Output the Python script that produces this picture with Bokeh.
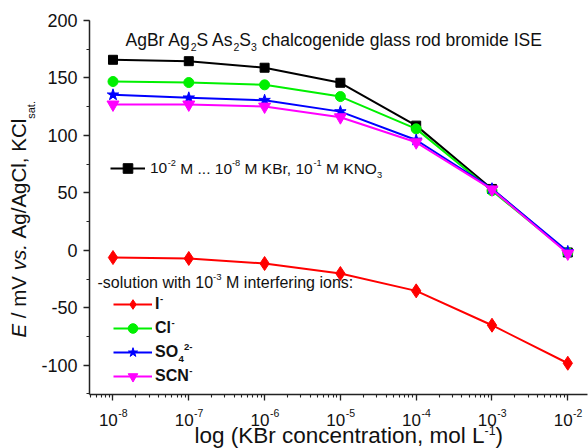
import math
from bokeh.plotting import figure
from bokeh.layouts import row, column
from bokeh.models import (Range1d, SingleIntervalTicker, Label, Legend, LegendItem,
                          CustomJSTickFormatter)
from bokeh.core.properties import value
from bokeh.embed import file_html
from bokeh.resources import INLINE

# ---------------- data ----------------
conc = [1e-8, 1e-7, 1e-6, 1e-5, 1e-4, 1e-3, 1e-2]
E_kbr = [165.8, 164.6, 158.9, 145.8, 108.5, 53.4, -1.9]
E_cl = [146.9, 146.0, 144.0, 133.8, 105.7, 51.9, -2.0]
E_so4 = [135.3, 132.7, 130.6, 120.7, 96.0, 53.6, -1.0]
E_scn = [126.9, 126.9, 125.1, 115.8, 94.0, 53.0, -2.8]
E_i = [-6.3, -7.1, -11.5, -20.2, -35.3, -65.2, -98.3]

x_ticks = [1e-8, 1e-7, 1e-6, 1e-5, 1e-4, 1e-3, 1e-2]
x_tick_exp = ["-8", "-7", "-6", "-5", "-4", "-3", "-2"]
y_tick_interval = 50

FONT = "Liberation Sans"
TXT = "#111111"
AX = "#222222"
GREEN = "#00f000"
W, H = 588, 448
LSTRIP = 38            # width of the strip holding the y-axis title
MAIN_H = 404           # height of the main plot
FRAME_L, FRAME_T, FRAME_B = 89, 20, 394
X_RANGE = (10 ** -8.31, 10 ** -1.74)

# ---------------- text helpers ----------------
REG = {' ': 278, '(': 333, ')': 333, ',': 278, '-': 333, '.': 278, '/': 278, ':': 278,
       'A': 667, 'B': 667, 'C': 722, 'E': 667, 'I': 278, 'K': 667, 'L': 556, 'M': 833,
       'N': 722, 'O': 778, 'S': 667, 'V': 667,
       'a': 556, 'b': 556, 'c': 500, 'd': 556, 'e': 556, 'f': 278, 'g': 556, 'h': 556,
       'i': 222, 'l': 222, 'm': 833, 'n': 556, 'o': 556, 'r': 333, 's': 500, 't': 278,
       'u': 556, 'v': 500, 'w': 722}
BOLD = {' ': 278, '-': 333, 'I': 278, 'C': 722, 'l': 278, 'S': 667, 'O': 778, 'N': 722}
MID = 0.3465  # 'middle' baseline offset above alphabetic (em)


def tw(s, size, bold=False):
    t = BOLD if bold else REG
    return sum(t.get(c, 556) for c in s) * size / 1000.0


def rich(fig, ox, oy, x, base, segs, size, bold=False, skip_first=False,
         sup_scale=0.6, sup_raise=0.5, sub_drop=0.25):
    """Horizontal rich text. x, base: page px (y down) of start and baseline.
    ox, oy: page px of the frame's left and bottom edge of `fig`."""
    cx = x
    for i, (text, kind, style) in enumerate(segs):
        if kind == "sup":
            s, b = size * sup_scale, base - size * sup_raise
        elif kind == "sub":
            s, b = size * sup_scale, base + size * sub_drop
        else:
            s, b = size, base
        lead = text[:len(text) - len(text.lstrip())]
        core = text.strip()
        if core and not (skip_first and i == 0):
            fig.add_layout(Label(x=cx + tw(lead, s, bold) - ox, y=oy - (b - MID * s),
                                 x_units="screen", y_units="screen", text=core,
                                 text_font=FONT, text_font_size=f"{s:.2f}px",
                                 text_font_style=style, text_align="left",
                                 text_baseline="middle", text_color=TXT))
        cx += tw(text, s, bold)


def blank_fig(w, h, **kw):
    f = figure(width=w, height=h, output_backend="svg", toolbar_location=None, title=None,
               x_axis_location=None, y_axis_location=None, **kw)
    f.outline_line_color = None
    f.grid.visible = False
    return f


# ---------------- main plot ----------------
p = figure(width=W - LSTRIP, height=MAIN_H, x_axis_type="log",
           x_range=Range1d(*X_RANGE), y_range=Range1d(-125.5, 200),
           output_backend="svg", toolbar_location=None, title=None,
           min_border_left=FRAME_L - LSTRIP, min_border_right=1,
           min_border_top=FRAME_T, min_border_bottom=MAIN_H - FRAME_B)
p.outline_line_color = None
p.xgrid.grid_line_color = None
p.ygrid.grid_line_color = None

p.yaxis.ticker = SingleIntervalTicker(interval=y_tick_interval, num_minor_ticks=2)
p.yaxis.formatter = CustomJSTickFormatter(code="return tick.toString()")
p.xaxis.formatter = CustomJSTickFormatter(code="return ''")
for ax in (p.xaxis[0], p.yaxis[0]):
    ax.axis_line_color = AX
    ax.axis_line_width = 1.5
    ax.major_tick_line_color = AX
    ax.minor_tick_line_color = AX
    ax.major_tick_line_width = 1.3
    ax.minor_tick_line_width = 1.1
    ax.major_tick_in = 0
    ax.major_tick_out = 6
    ax.minor_tick_in = 0
    ax.minor_tick_out = 3
    ax.major_label_text_font = FONT
    ax.major_label_text_color = TXT
p.yaxis.major_label_text_font_size = "18px"
p.yaxis.major_label_standoff = 6
p.xaxis.major_label_text_font_size = "0px"
p.xaxis.major_label_standoff = 0

LW = 2
l_kbr = p.line(conc, E_kbr, color="black", line_width=LW)
m_kbr = p.scatter(conc, E_kbr, marker="square", size=9, color="black")
l_cl = p.line(conc, E_cl, color=GREEN, line_width=LW)
m_cl = p.scatter(conc, E_cl, marker="circle", size=10, color=GREEN)
l_so4 = p.line(conc, E_so4, color="#0000ff", line_width=LW)
m_so4 = p.scatter(conc, E_so4, marker="star", size=12, color="#0000ff")
l_scn = p.line(conc, E_scn, color="#ff00ff", line_width=LW)
m_scn = p.scatter(conc, E_scn, marker="inverted_triangle", size=12, color="#ff00ff")
l_i = p.line(conc, E_i, color="#ff0000", line_width=LW)
m_i = p.scatter(conc, E_i, marker="diamond", size=14, color="#ff0000")

# title inside the frame
rich(p, FRAME_L, FRAME_B, 125, 46,
     [("AgBr Ag", "n", "normal"), ("2", "sub", "normal"), ("S As", "n", "normal"),
      ("2", "sub", "normal"), ("S", "n", "normal"), ("3", "sub", "normal"),
      (" chalcogenide glass rod bromide ISE", "n", "normal")], 17.5)

# heading for the interfering-ion group
rich(p, FRAME_L, FRAME_B, 97, 288,
     [("-solution with 10", "n", "normal"), ("-3", "sup", "normal"),
      (" M interfering ions:", "n", "normal")], 16)

# legends
common = dict(padding=0, spacing=0, margin=0, border_line_color=None,
              background_fill_alpha=0, label_text_font=FONT, label_text_color=TXT,
              glyph_height=24, label_height=24)

mid1 = 168
leg1 = Legend(items=[LegendItem(label=value("10"), renderers=[l_kbr, m_kbr])],
              location=(110 - FRAME_L, FRAME_B - (mid1 + 12)), glyph_width=35,
              label_standoff=5, label_text_font_size="15.5px", **common)
p.add_layout(leg1)
rich(p, FRAME_L, FRAME_B, 150, mid1 + MID * 15.5,
     [("10", "n", "normal"), ("-2", "sup", "normal"), (" M ... 10", "n", "normal"),
      ("-8", "sup", "normal"), (" M KBr, 10", "n", "normal"), ("-1", "sup", "normal"),
      (" M KNO", "n", "normal"), ("3", "sub", "normal")], 15.5, skip_first=True)

mid2 = 304
leg2 = Legend(items=[LegendItem(label=value("I"), renderers=[l_i, m_i]),
                     LegendItem(label=value("Cl"), renderers=[l_cl, m_cl]),
                     LegendItem(label=value("SO"), renderers=[l_so4, m_so4]),
                     LegendItem(label=value("SCN"), renderers=[l_scn, m_scn])],
              location=(113 - FRAME_L, FRAME_B - (mid2 - 12 + 4 * 24)), glyph_width=39,
              label_standoff=3, label_text_font_size="16px",
              label_text_font_style="bold", **common)
p.add_layout(leg2)
for k, segs in enumerate([
        [("I", "n", "bold"), ("-", "sup", "bold")],
        [("Cl", "n", "bold"), ("-", "sup", "bold")],
        [("SO", "n", "bold"), ("4", "sub", "bold"), ("2-", "sup", "bold")],
        [("SCN", "n", "bold"), ("-", "sup", "bold")]]):
    rich(p, FRAME_L, FRAME_B, 155, mid2 + 24 * k + MID * 16, segs, 16, bold=True,
         skip_first=True)

# ---------------- left strip: y-axis title ----------------
fl = blank_fig(LSTRIP, H, min_border=0, x_range=Range1d(0, 1), y_range=Range1d(0, 1))
YS = 20.5
ybase_x = 25
cy = 337
for text, kind, style in [("E", "n", "italic"), (" / mV ", "n", "normal"),
                          ("vs.", "n", "italic"), (" Ag/AgCl, KCl", "n", "normal"),
                          ("sat.", "sub", "normal")]:
    if kind == "sub":
        s, bx = 11, ybase_x + 9
    else:
        s, bx = YS, ybase_x
    lead = text[:len(text) - len(text.lstrip())]
    core = text.strip()
    fl.add_layout(Label(x=bx - MID * s, y=H - (cy - tw(lead, s)), x_units="screen",
                        y_units="screen", text=core, angle=math.pi / 2, text_font=FONT,
                        text_font_size=f"{s:.2f}px", text_font_style=style,
                        text_align="left", text_baseline="middle", text_color=TXT))
    cy -= tw(text, s)

# ---------------- bottom strip: x tick labels and x-axis title ----------------
BH = H - MAIN_H
fb = blank_fig(W - LSTRIP, BH, x_axis_type="log", x_range=Range1d(*X_RANGE),
               y_range=Range1d(0, 1), min_border_left=FRAME_L - LSTRIP,
               min_border_right=1, min_border_top=0, min_border_bottom=0)
TS, TSS = 17, 10.5
w10, wexp = tw("10", TS), [tw(e, TSS) for e in x_tick_exp]
for t, e, we in zip(x_ticks, x_tick_exp, wexp):
    x0 = -(w10 + we) / 2
    fb.add_layout(Label(x=t, y=H - (425 - MID * TS), x_units="data", y_units="screen",
                        x_offset=x0, text="10", text_font=FONT,
                        text_font_size=f"{TS}px", text_align="left",
                        text_baseline="middle", text_color=TXT))
    fb.add_layout(Label(x=t, y=H - (416 - MID * TSS), x_units="data", y_units="screen",
                        x_offset=x0 + w10 + 0.5, text=e, text_font=FONT,
                        text_font_size=f"{TSS}px", text_align="left",
                        text_baseline="middle", text_color=TXT))

rich(fb, FRAME_L, H, 194, 443,
     [("log (KBr concentration, mol L", "n", "normal"), ("-1", "sup", "normal"),
      (")", "n", "normal")], 22.5, sup_scale=0.55, sup_raise=0.4)

layout = row(fl, column(p, fb, spacing=0), spacing=0)
open("out.html", "w").write(file_html(layout, INLINE))
